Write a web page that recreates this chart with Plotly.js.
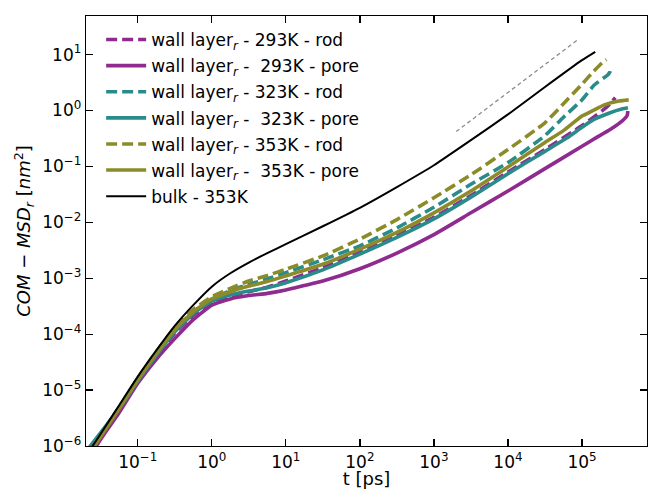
<!DOCTYPE html>
<html><head><meta charset="utf-8">
<script src="https://cdn.plot.ly/plotly-3.0.1.min.js"></script>
<style>html,body{margin:0;padding:0;background:#fff}</style>
</head><body>
<div id="chart" style="width:648px;height:489px"></div>
<script>
// time [ps] and COM-MSD_r [nm^2]
const rod293_t  = [0.02, 0.0316, 0.0562, 0.1, 0.178, 0.316, 0.562, 1, 1.78, 3.16, 5.62, 10, 31.6, 100, 316, 1000, 3160, 10000, 31600, 100000, 158000, 224000, 282000];
const rod293_y  = [5.62e-7, 1.41e-6, 4.37e-6, 1.38e-5, 3.98e-5, 1.05e-4, 2.19e-4, 3.63e-4, 4.79e-4, 5.75e-4, 6.92e-4, 8.91e-4, 1.55e-3, 2.95e-3, 5.75e-3, 1.23e-2, 3.02e-2, 7.94e-2, 0.200, 0.537, 0.832, 1.20, 1.70];

const pore293_t = [0.02, 0.0316, 0.0562, 0.1, 0.178, 0.316, 0.562, 1, 1.78, 3.16, 5.62, 10, 17.8, 31.6, 100, 316, 1000, 3160, 10000, 31600, 100000, 145000, 240000, 347000, 407000, 417000];
const pore293_y = [5.25e-7, 1.32e-6, 3.98e-6, 1.32e-5, 3.55e-5, 8.32e-5, 1.82e-4, 3.31e-4, 4.27e-4, 4.90e-4, 5.37e-4, 6.17e-4, 7.41e-4, 8.91e-4, 1.48e-3, 2.82e-3, 6.03e-3, 1.48e-2, 3.63e-2, 9.12e-2, 0.229, 0.309, 0.457, 0.646, 0.813, 0.977];

const rod323_t  = [0.02, 0.0316, 0.0562, 0.1, 0.178, 0.316, 0.562, 1, 1.78, 3.16, 5.62, 10, 31.6, 100, 316, 1000, 3160, 10000, 31600, 56200, 100000, 145000, 224000, 240000, 243000];
const rod323_y  = [7.08e-7, 1.58e-6, 5.01e-6, 1.58e-5, 4.68e-5, 1.20e-4, 2.51e-4, 4.17e-4, 6.03e-4, 7.76e-4, 9.77e-4, 1.26e-3, 2.14e-3, 3.80e-3, 7.94e-3, 1.86e-2, 4.79e-2, 0.117, 0.355, 0.759, 1.55, 2.82, 4.37, 5.01, 5.89];

const pore323_t = [0.02, 0.0316, 0.0562, 0.1, 0.178, 0.316, 0.562, 1, 1.78, 3.16, 5.62, 10, 31.6, 100, 316, 1000, 3160, 10000, 31600, 63100, 100000, 145000, 240000, 355000, 417000];
const pore323_y = [7.94e-7, 1.74e-6, 4.68e-6, 1.45e-5, 4.17e-5, 1.10e-4, 2.34e-4, 3.89e-4, 5.01e-4, 5.89e-4, 6.76e-4, 8.32e-4, 1.41e-3, 2.69e-3, 5.37e-3, 1.15e-2, 2.82e-2, 7.41e-2, 0.186, 0.324, 0.501, 0.692, 0.912, 1.07, 1.12];

const rod353_t  = [0.02, 0.0316, 0.0562, 0.1, 0.178, 0.316, 0.562, 1, 1.78, 3.16, 5.62, 10, 31.6, 100, 316, 1000, 3160, 10000, 31600, 56200, 100000, 141000, 186000, 214000];
const rod353_y  = [6.03e-7, 1.51e-6, 4.90e-6, 1.62e-5, 4.79e-5, 1.32e-4, 2.75e-4, 4.68e-4, 6.61e-4, 8.91e-4, 1.12e-3, 1.45e-3, 2.51e-3, 5.01e-3, 1.12e-2, 2.75e-2, 7.08e-2, 0.200, 0.603, 1.32, 2.95, 4.90, 7.08, 8.13];

const pore353_t = [0.02, 0.0316, 0.0562, 0.1, 0.178, 0.316, 0.562, 1, 1.78, 3.16, 5.62, 10, 31.6, 100, 316, 1000, 3160, 10000, 31600, 56200, 100000, 141000, 200000, 316000, 427000];
const pore353_y = [6.03e-7, 1.48e-6, 4.68e-6, 1.51e-5, 4.47e-5, 1.20e-4, 2.51e-4, 4.27e-4, 5.75e-4, 7.24e-4, 8.71e-4, 1.10e-3, 1.78e-3, 3.31e-3, 6.61e-3, 1.48e-2, 3.63e-2, 9.77e-2, 0.269, 0.437, 0.794, 1.00, 1.26, 1.48, 1.55];

const bulk353_t = [0.02, 0.0316, 0.0562, 0.1, 0.178, 0.316, 0.562, 1, 1.78, 3.16, 5.62, 10, 31.6, 100, 316, 1000, 3160, 10000, 31600, 100000, 151000];
const bulk353_y = [6.61e-7, 1.66e-6, 5.37e-6, 1.74e-5, 5.13e-5, 1.41e-4, 3.31e-4, 7.08e-4, 1.23e-3, 1.91e-3, 2.82e-3, 4.07e-3, 8.51e-3, 1.82e-2, 4.27e-2, 0.105, 0.295, 0.851, 2.63, 7.94, 11.2];

// slope-1 guide line
const guide_t = [2000, 90000];
const guide_y = [0.42, 18.9];

const seriesNames = [
  'wall layer<sub><i>r</i></sub> - 293K - rod',
  'wall layer<sub><i>r</i></sub> - \u00a0293K - pore',
  'wall layer<sub><i>r</i></sub> - 323K - rod',
  'wall layer<sub><i>r</i></sub> - \u00a0323K - pore',
  'wall layer<sub><i>r</i></sub> - 353K - rod',
  'wall layer<sub><i>r</i></sub> - \u00a0353K - pore',
  'bulk - 353K'
];
const xTickVals = [0.1, 1, 10, 100, 1000, 10000, 100000];
const xTickText = ['10<sup>\u22121</sup>', '10<sup>0</sup>', '10<sup>1</sup>', '10<sup>2</sup>', '10<sup>3</sup>', '10<sup>4</sup>', '10<sup>5</sup>'];
const yTickVals = [1e-6, 1e-5, 1e-4, 1e-3, 1e-2, 1e-1, 1, 10];
const yTickText = ['10<sup>\u22126</sup>', '10<sup>\u22125</sup>', '10<sup>\u22124</sup>', '10<sup>\u22123</sup>', '10<sup>\u22122</sup>', '10<sup>\u22121</sup>', '10<sup>0</sup>', '10<sup>1</sup>'];

const PURPLE = '#8f2a8f', TEAL = '#2a8b8b', OLIVE = '#8b8b2a';
const DASH = '11px,5px';
const W = 3.6;

function tr(x, y, name, color, dash, width, i) {
  return {x: x, y: y, name: name, type: 'scatter', mode: 'lines',
    legendgroup: 'g' + i,
    line: {color: color, dash: dash, width: width, shape: 'spline', smoothing: 0.45}};
}

const data = [
  {x: guide_t, y: guide_y, type: 'scatter', mode: 'lines', showlegend: false,
   line: {color: '#8c8c8c', dash: '4px,3px', width: 1.3}, hoverinfo: 'skip'},
  tr(rod293_t, rod293_y, seriesNames[0], PURPLE, DASH, W, 0),
  tr(pore293_t, pore293_y, seriesNames[1], PURPLE, 'solid', W, 1),
  tr(rod323_t, rod323_y, seriesNames[2], TEAL, DASH, W, 2),
  tr(pore323_t, pore323_y, seriesNames[3], TEAL, 'solid', W, 3),
  tr(rod353_t, rod353_y, seriesNames[4], OLIVE, DASH, W, 4),
  tr(pore353_t, pore353_y, seriesNames[5], OLIVE, 'solid', W, 5),
  tr(bulk353_t, bulk353_y, seriesNames[6], '#000000', 'solid', 2, 6)
];

const axisCommon = {
  type: 'log', showgrid: false, zeroline: false,
  showline: true, linecolor: '#000', linewidth: 1.3, mirror: 'ticks',
  ticks: 'inside', ticklen: 7, tickwidth: 1.3, tickcolor: '#000',
  tickfont: {family: 'DejaVu Sans', size: 17, color: '#000'}
};

const layout = {
  width: 648, height: 489,
  margin: {l: 86, r: 1, t: 16, b: 43},
  paper_bgcolor: '#fff', plot_bgcolor: '#fff',
  font: {family: 'DejaVu Sans', color: '#000'},
  showlegend: true,
  legend: {x: 0.027, y: 0.986, xanchor: 'left', yanchor: 'top',
    bgcolor: 'rgba(0,0,0,0)', borderwidth: 0, tracegroupgap: 1, itemwidth: 40,
    font: {family: 'DejaVu Sans', size: 17, color: '#000'}},
  xaxis: Object.assign({}, axisCommon, {
    range: [Math.log10(0.02), Math.log10(7.55e5)],
    tickmode: 'array', tickvals: xTickVals, ticktext: xTickText,
    title: {text: 't [ps]', font: {family: 'DejaVu Sans', size: 18, color: '#000'}, standoff: 3}
  }),
  yaxis: Object.assign({}, axisCommon, {
    range: [-6, 1.69],
    tickmode: 'array', tickvals: yTickVals, ticktext: yTickText,
    title: {text: '<i>COM</i> \u2212 <i>MSD<sub>r</sub></i> [<i>nm</i><sup>2</sup>]', font: {family: 'DejaVu Sans', size: 18, color: '#000'}, standoff: 6}
  })
};

Plotly.newPlot('chart', data, layout, {displayModeBar: false, staticPlot: true});
</script>
</body></html>
